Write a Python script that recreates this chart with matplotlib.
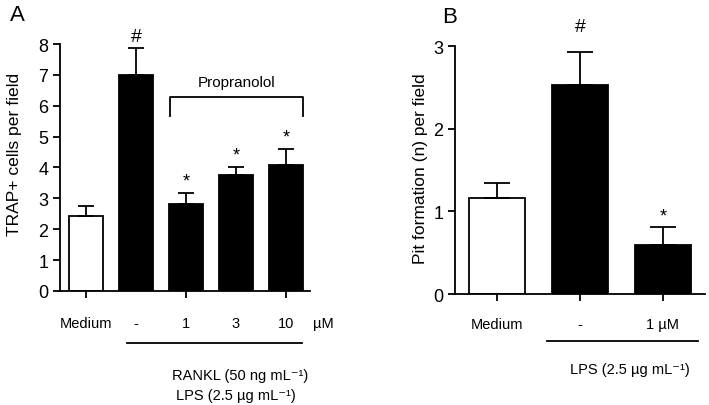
import matplotlib
matplotlib.use('Agg')
import matplotlib.pyplot as plt
import matplotlib.transforms as mtrans

plt.rcParams['font.family'] = ['Liberation Sans', 'DejaVu Sans']

# painel A - células TRAP+
grupos_a = ['Medium', '-', '1', '3', '10']
media_a = [2.43, 7.0, 2.82, 3.75, 4.08]
erro_a = [0.32, 0.86, 0.35, 0.25, 0.52]
cores_a = ['white', 'black', 'black', 'black', 'black']
marcas_a = ['', '#', '*', '*', '*']

# painel B - formação de pits
grupos_b = ['Medium', '-', '1 \u00b5M']
media_b = [1.16, 2.53, 0.59]
erro_b = [0.19, 0.40, 0.22]
cores_b = ['white', 'black', 'black']
marcas_b = ['', '#', '*']

fig = plt.figure(figsize=(7.09, 4.06), dpi=100)
ax1 = fig.add_axes([0.0846, 0.281, 0.3526, 0.608])
ax2 = fig.add_axes([0.6417, 0.273, 0.3526, 0.611])

sup = '\u207b\u00b9'


def estilo(ax):
    ax.spines['top'].set_visible(False)
    ax.spines['right'].set_visible(False)
    ax.spines['left'].set_linewidth(1.3)
    ax.spines['bottom'].set_linewidth(1.3)
    ax.tick_params(axis='both', direction='out', width=1.3, length=5, labelsize=13)
    ax.tick_params(axis='x', labelbottom=False)


# ---------- A ----------
x_a = range(len(grupos_a))
ax1.bar(x_a, media_a, width=0.68, color=cores_a, edgecolor='black', linewidth=1.3,
        yerr=[[0] * len(erro_a), erro_a], capsize=6,
        error_kw=dict(elinewidth=1.3, capthick=1.3, ecolor='black'))
ax1.set_xlim(-0.52, 4.48)
ax1.set_ylim(0, 8)
ax1.set_yticks(range(0, 9))
ax1.set_ylabel('TRAP+ cells per field', fontsize=12.6)
ax1.yaxis.set_label_coords(-0.152, 0.555)
estilo(ax1)

for i, m in enumerate(marcas_a):
    if m:
        topo = media_a[i] + erro_a[i]
        ax1.text(i, topo + 0.12, m, ha='center', va='bottom',
                 fontsize=14 if m == '#' else 13)

# colchete Propranolol
ax1.plot([1.68, 1.68, 4.34, 4.34], [5.66, 6.28, 6.28, 5.66], color='black', lw=1.3)
ax1.text(3.02, 6.55, 'Propranolol', ha='center', va='bottom', fontsize=11)

tr1 = mtrans.blended_transform_factory(ax1.transData, ax1.transAxes)
for i, g in enumerate(grupos_a):
    ax1.text(i, -0.13, g, transform=tr1, ha='center', va='center', fontsize=10.5)
ax1.text(4.75, -0.13, '\u00b5M', transform=tr1, ha='center', va='center', fontsize=10.5)
ax1.plot([0.82, 4.32], [-0.21, -0.21], transform=tr1, color='black', lw=1.3, clip_on=False)
ax1.text(3.08, -0.34, 'RANKL (50 ng mL' + sup + ')', transform=tr1, ha='center', va='center', fontsize=10.5)
ax1.text(3.0, -0.42, 'LPS (2.5 \u00b5g mL' + sup + ')', transform=tr1, ha='center', va='center', fontsize=10.5)
ax1.text(-0.2, 1.12, 'A', transform=ax1.transAxes, ha='left', va='center', fontsize=16)

# ---------- B ----------
x_b = range(len(grupos_b))
ax2.bar(x_b, media_b, width=0.67, color=cores_b, edgecolor='black', linewidth=1.3,
        yerr=[[0] * len(erro_b), erro_b], capsize=9.5,
        error_kw=dict(elinewidth=1.3, capthick=1.3, ecolor='black'))
ax2.set_xlim(-0.506, 2.506)
ax2.set_ylim(0, 3)
ax2.set_yticks(range(0, 4))
ax2.set_ylabel('Pit formation (n) per field', fontsize=12.5)
ax2.yaxis.set_label_coords(-0.108, 0.51)
estilo(ax2)

for i, m in enumerate(marcas_b):
    if m:
        topo = media_b[i] + erro_b[i]
        ax2.text(i, topo + (0.2 if m == '#' else 0.03), m, ha='center', va='bottom',
                 fontsize=14 if m == '#' else 13)

tr2 = mtrans.blended_transform_factory(ax2.transData, ax2.transAxes)
for i, g in enumerate(grupos_b):
    ax2.text(i, -0.12, g, transform=tr2, ha='center', va='center', fontsize=10.5)
ax2.plot([0.6, 2.42], [-0.19, -0.19], transform=tr2, color='black', lw=1.3, clip_on=False)
ax2.text(1.6, -0.30, 'LPS (2.5 \u00b5g mL' + sup + ')', transform=tr2, ha='center', va='center', fontsize=10.5)
ax2.text(-0.05, 1.12, 'B', transform=ax2.transAxes, ha='left', va='center', fontsize=16)

fig.savefig('out.png', dpi=100)
